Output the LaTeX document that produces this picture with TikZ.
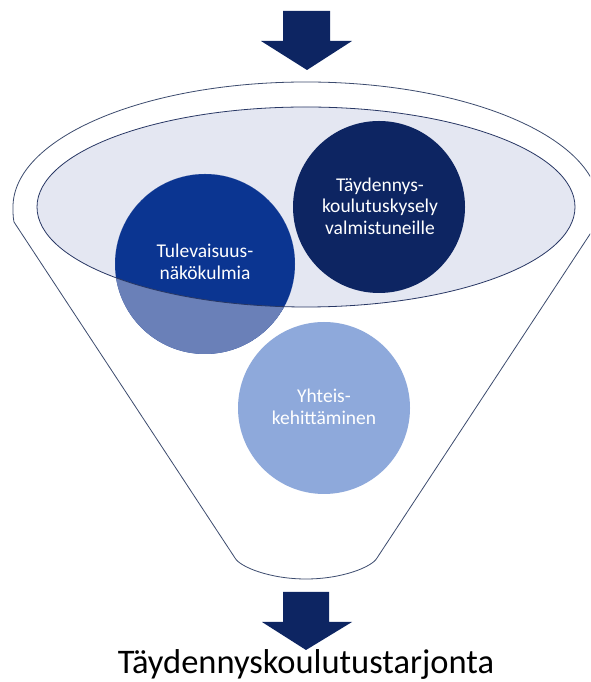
\documentclass[tikz,border=0pt]{standalone}
\usepackage{fontspec}
\setmainfont{Carlito}
\definecolor{navy}{RGB}{13,37,98}
\definecolor{tule}{RGB}{11,53,145}
\definecolor{tulelight}{RGB}{106,128,184}
\definecolor{yht}{RGB}{142,169,219}
\definecolor{ellfill}{RGB}{228,231,242}
\definecolor{funline}{RGB}{60,75,110}
\definecolor{ellline}{RGB}{40,55,100}
\tikzset{
  funnelline/.style={draw=funline, line width=0.8pt, fill=white},
  topell/.style={draw=ellline, line width=0.8pt},
  bigarrow/.style={fill=navy, draw=none},
  circ/.style={circle, draw=none, inner sep=0pt},
  circtext/.style={text=white, align=center, font=\fontsize{19.5}{21.5}\selectfont},
  bottomtext/.style={text=black, font=\fontsize{34.5}{40}\selectfont, anchor=base}
}
\begin{document}
\begin{tikzpicture}[x=1pt,y=1pt]
\clip (0,0) rectangle (590,682);
\fill[white] (0,0) rectangle (590,682);
% top arrow
\fill[bigarrow] (283,671) -- (330,671) -- (330,641) -- (352,641) -- (307,612) -- (261,641) -- (283,641) -- cycle;
% funnel body
\path[funnelline] (13,475) arc[start angle=180, end angle=0, x radius=293, y radius=125]
  .. controls (599,469) and (599,465) .. (598,460) -- (377,124)
  .. controls (372,115) and (342,103) .. (306,103)
  .. controls (270,103) and (240,115) .. (235,124)
  -- (14,460) .. controls (13,465) and (13,469) .. (13,475) -- cycle;
% inner ellipse (opening)
\fill[ellfill] (306,475) ellipse[x radius=269, y radius=100];
% circles
\node[circ, fill=navy, minimum size=172pt] (kysely) at (379,475) {};
\node[circ, fill=tule, minimum size=180pt] (tulev) at (205,418) {};
\begin{scope}
  \clip (205,418) circle[radius=90];
  \fill[tulelight, even odd rule] (205,418) circle[radius=90] (306,475) ellipse[x radius=269, y radius=100];
\end{scope}
\node[circ, fill=yht, minimum size=172pt] (yhteis) at (324,274) {};
\draw[topell] (306,475) ellipse[x radius=269, y radius=100];
% texts
\node[circtext] (kyselytext) at (380,476) {Täydennys-\\koulutuskysely\\valmistuneille};
\node[circtext] (tulevtext) at (205,420) {Tulevaisuus-\\näkökulmia};
\node[circtext] (yhteistext) at (324,275) {Yhteis-\\kehittäminen};
% bottom arrow
\fill[bigarrow] (283,90) -- (329,90) -- (329,60) -- (352,60) -- (306,32) -- (262,60) -- (283,60) -- cycle;
\node[bottomtext] (result) at (306,9) {Täydennyskoulutustarjonta};
\end{tikzpicture}
\end{document}
